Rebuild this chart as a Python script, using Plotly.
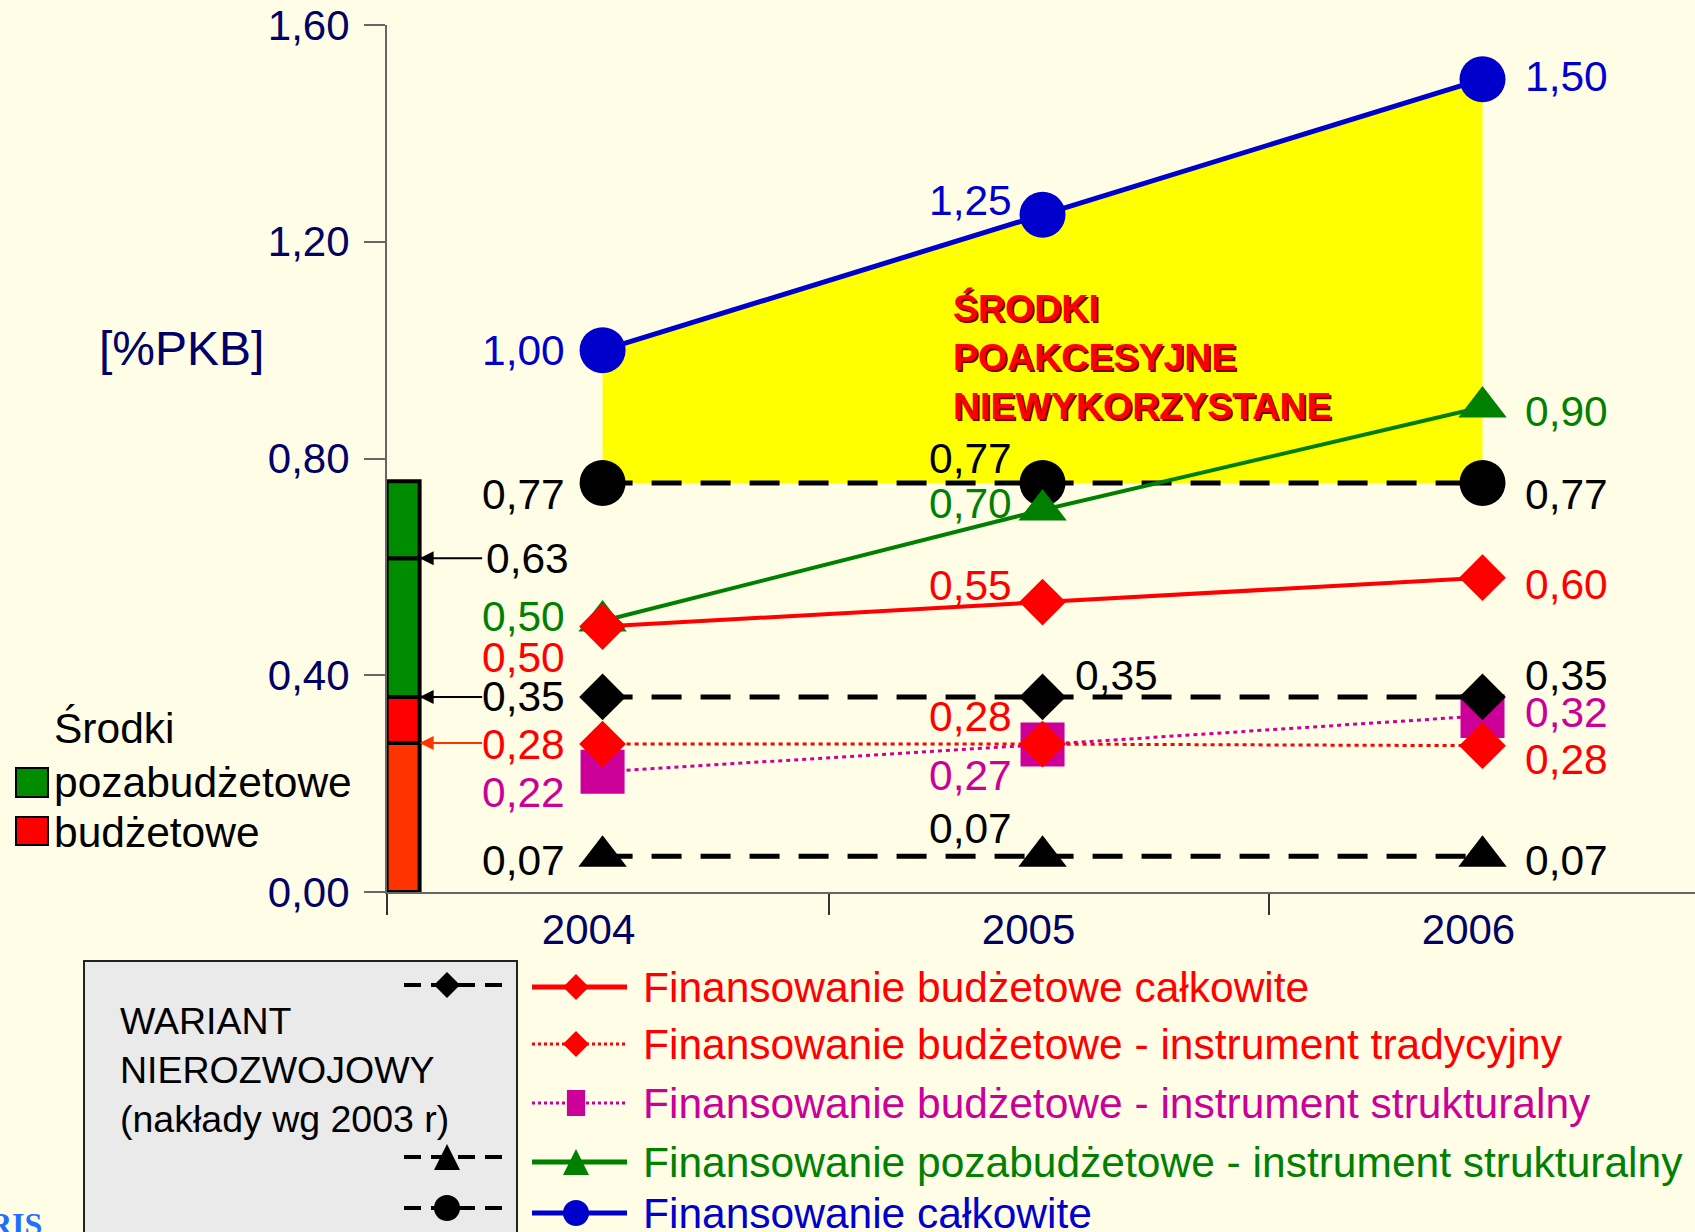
import plotly.graph_objects as go

# ---------------- data ----------------
years = ["2004", "2005", "2006"]
x_idx = [0, 1, 2]

fin_calkowite = [1.00, 1.25, 1.50]
fin_calkowite_txt = ["1,00", "1,25", "1,50"]
budz_calkowite = [0.49, 0.535, 0.58]
budz_calkowite_txt = ["0,50", "0,55", "0,60"]
budz_tradycyjny = [0.273, 0.273, 0.270]
budz_tradycyjny_txt = ["0,28", "0,28", "0,28"]
budz_strukturalny = [0.222, 0.272, 0.325]
budz_strukturalny_txt = ["0,22", "0,27", "0,32"]
pozabudz_strukturalny = [0.50, 0.705, 0.895]
pozabudz_strukturalny_txt = ["0,50", "0,70", "0,90"]
nier_calkowite = [0.755, 0.755, 0.755]
nier_calkowite_txt = ["0,77", "0,77", "0,77"]
nier_budzetowe = [0.36, 0.36, 0.36]
nier_budzetowe_txt = ["0,35", "0,35", "0,35"]
nier_pozabudz = [0.066, 0.066, 0.066]
nier_pozabudz_txt = ["0,07", "0,07", "0,07"]

bar_base = [0.0, 0.275, 0.36, 0.616]
bar_top = [0.275, 0.36, 0.616, 0.758]
arrow_vals = [0.616, 0.36, 0.275]
arrow_only_label = ["0,63"]

y_ticks = [0, 0.4, 0.8, 1.2, 1.6]

legend_names = [
    "Finansowanie budżetowe całkowite",
    "Finansowanie budżetowe - instrument tradycyjny",
    "Finansowanie budżetowe - instrument strukturalny",
    "Finansowanie pozabudżetowe - instrument strukturalny",
    "Finansowanie całkowite",
]

# ---------------- style ----------------
BG = "#FFFDE5"
NAVY = "#000066"
BLUE = "#0000CC"
RED = "#FF0000"
GREEN = "#008000"
BARGREEN = "#008C00"
MAGENTA = "#CC0099"
ORANGE = "#FF3300"
BLACK = "#000000"
FONT = "Liberation Sans, Arial, sans-serif"
LBL = 42.5

W, H = 1695, 1232
L, T, B = 387, 25, 892


def pxx(x):
    return (x - L) / (W - L)


def pyy(y):
    return (B - y) / (B - T)


fig = go.Figure()

# yellow area between "całkowite" and non-development line
fig.add_trace(go.Scatter(x=x_idx, y=nier_calkowite, mode="lines",
                         line=dict(width=0, color=BG), hoverinfo="skip", showlegend=False))
fig.add_trace(go.Scatter(x=x_idx, y=fin_calkowite, mode="lines", fill="tonexty",
                         fillcolor="#FFFF00", line=dict(width=0, color="#FFFF00"),
                         hoverinfo="skip", showlegend=False))

# stacked reference bar
xbar = (403.5 - 603) / 440
fig.add_trace(go.Bar(x=[xbar] * 4, y=[t - b for t, b in zip(bar_top, bar_base)], base=bar_base,
                     width=33 / 440,
                     marker=dict(color=[ORANGE, RED, BARGREEN, BARGREEN],
                                 line=dict(color=BLACK, width=4)),
                     showlegend=False, hoverinfo="skip"))


def line_trace(y, color, width, dash, symbol, size):
    return go.Scatter(x=x_idx, y=y, mode="lines+markers",
                      line=dict(color=color, width=width, dash=dash),
                      marker=dict(symbol=symbol, size=size, color=color, line=dict(width=0)),
                      showlegend=False, cliponaxis=False)


fig.add_trace(line_trace(budz_strukturalny, MAGENTA, 3, "4px,4px", "square", 44))
fig.add_trace(line_trace(budz_tradycyjny, RED, 3, "4px,4px", "diamond", 36))
fig.add_trace(line_trace(nier_pozabudz, BLACK, 5, "30px,19px", "triangle-up", 42))
fig.add_trace(line_trace(nier_budzetowe, BLACK, 5, "30px,19px", "diamond", 36))
fig.add_trace(line_trace(nier_calkowite, BLACK, 5, "30px,19px", "circle", 46))
fig.add_trace(line_trace(pozabudz_strukturalny, GREEN, 4, "solid", "triangle-up", 42))
fig.add_trace(line_trace(budz_calkowite, RED, 4, "solid", "diamond", 36))
fig.add_trace(line_trace(fin_calkowite, BLUE, 5, "solid", "circle", 46))

annotations = []
shapes = []

# data labels: (values, texts, color, per-year (xanchor, xshift, yshift))
label_sets = [
    (fin_calkowite, fin_calkowite_txt, BLUE, [("right", -36, 0), ("right", -29, 14), ("left", 40, 3)]),
    (nier_calkowite, nier_calkowite_txt, BLACK, [("right", -36, -12), ("right", -29, 24), ("left", 40, -12)]),
    (pozabudz_strukturalny, pozabudz_strukturalny_txt, GREEN, [("right", -36, 5), ("right", -29, 6), ("left", 40, -4)]),
    (budz_calkowite, budz_calkowite_txt, RED, [("right", -36, -31), ("right", -29, 17), ("left", 40, -7)]),
    (nier_budzetowe, nier_budzetowe_txt, BLACK, [("right", -36, 0), ("left", 30, 21), ("left", 40, 21)]),
    (budz_tradycyjny, budz_tradycyjny_txt, RED, [("right", -36, 0), ("right", -29, 28), ("left", 40, -14)]),
    (budz_strukturalny, budz_strukturalny_txt, MAGENTA, [("right", -36, -21), ("right", -29, -31), ("left", 40, 3)]),
    (nier_pozabudz, nier_pozabudz_txt, BLACK, [("right", -36, -4), ("right", -29, 28), ("left", 40, -4)]),
]
for vals, txts, col, offs in label_sets:
    for xi, v, t, (xa, xs, ys) in zip(x_idx, vals, txts, offs):
        annotations.append(dict(x=xi, y=v, xref="x", yref="y", text=t, showarrow=False,
                                xanchor=xa, yanchor="middle", xshift=xs, yshift=ys,
                                font=dict(size=LBL, color=col, family=FONT)))

# arrows from labels to the bar
bar_right = (420 - 603) / 440
arrow_cols = [BLACK, BLACK, ORANGE]
for v, c in zip(arrow_vals, arrow_cols):
    annotations.append(dict(x=bar_right, y=v, xref="x", yref="y", text="", showarrow=True,
                            ax=64, ay=0, arrowhead=2, arrowsize=1.4, arrowwidth=2,
                            arrowcolor=c, standoff=0))
annotations.append(dict(x=bar_right, y=arrow_vals[0], xref="x", yref="y", text=arrow_only_label[0],
                        showarrow=False, xanchor="left", xshift=64, yshift=0,
                        font=dict(size=LBL, color=BLACK, family=FONT)))

# central label with shadow
area_txt = "ŚRODKI<br>POAKCESYJNE<br>NIEWYKORZYSTANE"
for dx, dy, col in [(2, -2, "#700000"), (0, 0, RED)]:
    annotations.append(dict(x=pxx(951), y=pyy(357), xref="paper", yref="paper", text="<b>" + area_txt + "</b>",
                            showarrow=False, xanchor="left", yanchor="middle", align="left",
                            xshift=dx, yshift=dy, font=dict(size=37.5, color=col, family=FONT)))

# y-axis unit
annotations.append(dict(x=pxx(182), y=pyy(349), xref="paper", yref="paper", text="[%PKB]",
                        showarrow=False, xanchor="center", yanchor="middle",
                        font=dict(size=48, color=NAVY, family=FONT)))

# left "Środki" legend
annotations.append(dict(x=pxx(52), y=pyy(728), xref="paper", yref="paper", text="Środki",
                        showarrow=False, xanchor="left", yanchor="middle",
                        font=dict(size=LBL, color=BLACK, family=FONT)))
for ytxt, y0, y1, col, txt in [(782, 768, 797, BARGREEN, "pozabudżetowe"),
                               (832, 817, 845, RED, "budżetowe")]:
    shapes.append(dict(type="rect", xref="paper", yref="paper", x0=pxx(16), x1=pxx(48),
                       y0=pyy(y1), y1=pyy(y0), fillcolor=col, line=dict(color=BLACK, width=2)))
    annotations.append(dict(x=pxx(52), y=pyy(ytxt), xref="paper", yref="paper", text=txt,
                            showarrow=False, xanchor="left", yanchor="middle",
                            font=dict(size=LBL, color=BLACK, family=FONT)))

# grey box legend (non-development variant)
shapes.append(dict(type="rect", xref="paper", yref="paper", x0=pxx(84), x1=pxx(517),
                   y0=pyy(1245), y1=pyy(961), fillcolor="#EAEAEA", line=dict(color="#222222", width=2),
                   layer="below"))
annotations.append(dict(x=pxx(118), y=pyy(1070), xref="paper", yref="paper",
                        text="WARIANT<br>NIEROZWOJOWY<br>(nakłady wg 2003 r)",
                        showarrow=False, xanchor="left", yanchor="middle", align="left",
                        font=dict(size=37.5, color=BLACK, family=FONT)))


def marker_shape(cx, cy, sym, size, color):
    r = size / 2
    if sym == "circle":
        return dict(type="circle", xref="paper", yref="paper", x0=pxx(cx - r), x1=pxx(cx + r),
                    y0=pyy(cy + r), y1=pyy(cy - r), fillcolor=color, line=dict(width=0))
    if sym == "diamond":
        pts = [(cx, cy - r), (cx + r, cy), (cx, cy + r), (cx - r, cy)]
    elif sym == "square":
        pts = [(cx - r * 0.7, cy - r), (cx + r * 0.7, cy - r), (cx + r * 0.7, cy + r), (cx - r * 0.7, cy + r)]
    else:  # triangle
        pts = [(cx, cy - r), (cx + r, cy + r), (cx - r, cy + r)]
    path = "M " + " L ".join(f"{pxx(a):.5f},{pyy(b):.5f}" for a, b in pts) + " Z"
    return dict(type="path", xref="paper", yref="paper", path=path, fillcolor=color,
                line=dict(width=0))


def line_shape(x0, x1, y, color, width, dash):
    return dict(type="line", xref="paper", yref="paper", x0=pxx(x0), x1=pxx(x1), y0=pyy(y), y1=pyy(y),
                line=dict(color=color, width=width, dash=dash))


for y, sym in [(985, "diamond"), (1157, "triangle"), (1208, "circle")]:
    shapes.append(line_shape(404, 502, y, BLACK, 4, "17px,10px"))
    shapes.append(marker_shape(447, y, sym, 26, BLACK))

# right legend (series)
leg_rows = [987, 1044, 1103, 1162, 1213]
leg_style = [(RED, 5, "solid", "diamond"), (RED, 3, "3px,3px", "diamond"),
             (MAGENTA, 3, "3px,3px", "square"), (GREEN, 5, "solid", "triangle"),
             (BLUE, 5, "solid", "circle")]
for y, name, (col, w, dash, sym) in zip(leg_rows, legend_names, leg_style):
    shapes.append(line_shape(532, 627, y, col, w, dash))
    shapes.append(marker_shape(576, y, sym, 26, col))
    annotations.append(dict(x=pxx(641), y=pyy(y), xref="paper", yref="paper", text=name,
                            showarrow=False, xanchor="left", yanchor="middle",
                            font=dict(size=LBL, color=col, family=FONT)))

# partial logo text bottom-left
annotations.append(dict(x=pxx(44), y=pyy(1224), xref="paper", yref="paper", text="<b>RIS</b>",
                        showarrow=False, xanchor="right", yanchor="middle",
                        font=dict(size=32, color="#1E6EFF", family="Liberation Serif, serif")))

fig.update_layout(
    width=W, height=H,
    margin=dict(l=L, r=0, t=T, b=H - B, pad=0),
    paper_bgcolor=BG, plot_bgcolor=BG,
    separators=", ",
    showlegend=False,
    barmode="overlay",
    font=dict(family=FONT),
    annotations=annotations,
    shapes=shapes,
    xaxis=dict(range=[-0.49, 2.483], tickmode="array", tickvals=x_idx, ticktext=years,
               ticks="", showline=True, linecolor="#666666", linewidth=2,
               tickfont=dict(size=42, color=NAVY, family=FONT),
               ticklabelshift=-14, ticklabelstandoff=0,
               minor=dict(tickmode="array", tickvals=[-0.49, 0.514, 1.514], ticks="outside",
                          ticklen=21, tickcolor="#333333", tickwidth=2),
               showgrid=False, zeroline=False, automargin=False, fixedrange=True),
    yaxis=dict(range=[0, 1.6], tickmode="array", tickvals=y_ticks, tickformat=".2f",
               ticks="outside", ticklen=21, tickcolor="#666666", tickwidth=2,
               showline=True, linecolor="#666666", linewidth=2,
               tickfont=dict(size=42, color=NAVY, family=FONT), ticklabelstandoff=6,
               showgrid=False, zeroline=False, automargin=False, fixedrange=True),
)

fig.write_html("out.html", config={"displayModeBar": False},
               post_script="document.body.style.margin='0';document.body.style.overflow='hidden';")
